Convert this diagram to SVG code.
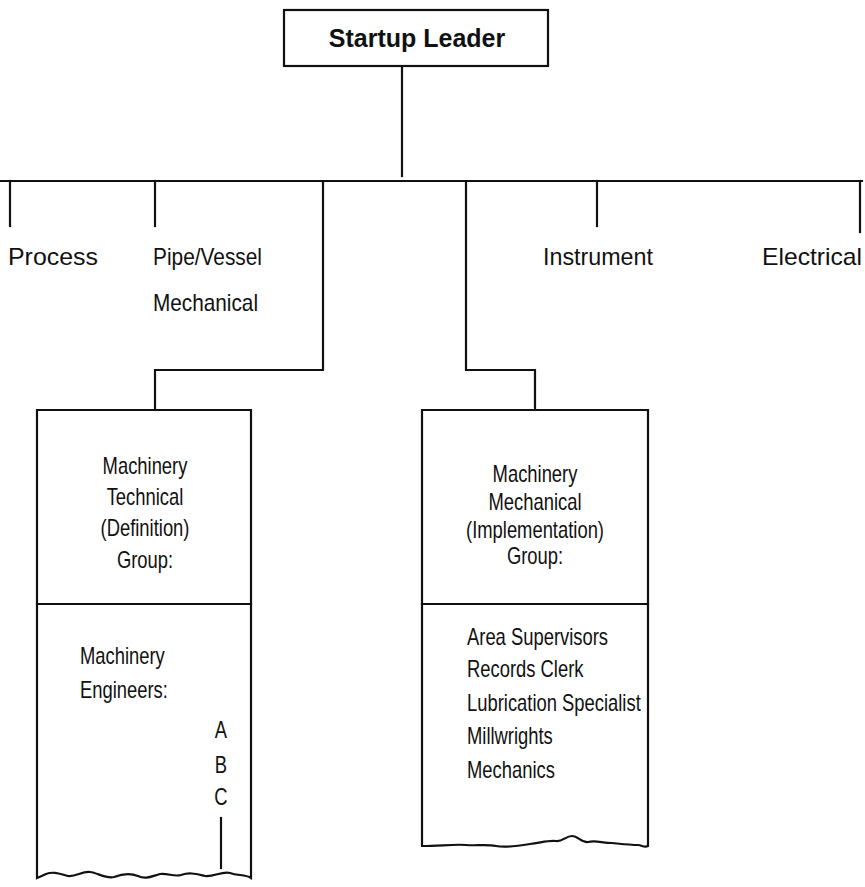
<svg xmlns="http://www.w3.org/2000/svg" width="865" height="887" viewBox="0 0 865 887">
  <style>
    .ln { fill: none; stroke: #111; stroke-width: 2.2; stroke-linecap: square; }
    .box { fill: #fff; stroke: #111; stroke-width: 2.2; }
    .t { font-family: "Liberation Sans", Arial, Helvetica, sans-serif; font-size: 24px; fill: #111; }
    .n { font-size: 23px; }
    .c { text-anchor: middle; }
    .b { font-weight: bold; font-size: 25px; }
  </style>
  <rect width="865" height="887" fill="#fff"/>

  <!-- connectors -->
  <g id="connectors" class="ln">
    <line x1="402" y1="66" x2="402" y2="176"/>
    <line x1="0" y1="181" x2="862" y2="181"/>
    <line x1="10" y1="181" x2="10" y2="226"/>
    <line x1="155" y1="181" x2="155" y2="226"/>
    <line x1="597" y1="181" x2="597" y2="226"/>
    <line x1="860" y1="181" x2="860" y2="232"/>
    <polyline points="323,181 323,370 155,370 155,410"/>
    <polyline points="466,181 466,370 535,370 535,410"/>
  </g>

  <!-- top node -->
  <g id="startup-leader">
    <rect class="box" x="284" y="10" width="264" height="56"/>
    <text class="t c b" x="417" y="47">Startup Leader</text>
  </g>

  <!-- first-level disciplines -->
  <g id="process"><text class="t" x="8" y="265" textLength="90" lengthAdjust="spacingAndGlyphs">Process</text></g>
  <g id="pipe-vessel">
    <text class="t" x="153" y="265" textLength="109" lengthAdjust="spacingAndGlyphs">Pipe/Vessel</text>
    <text class="t" x="153" y="311" textLength="105" lengthAdjust="spacingAndGlyphs">Mechanical</text>
  </g>
  <g id="instrument"><text class="t" x="543" y="265" textLength="110" lengthAdjust="spacingAndGlyphs">Instrument</text></g>
  <g id="electrical"><text class="t" x="762" y="265" textLength="100" lengthAdjust="spacingAndGlyphs">Electrical</text></g>

  <!-- technical group, open-ended list below -->
  <g id="technical-group">
    <path class="box" d="M37,410 H251 V878 C245,874 238,876 230,873 C222,871 214,877 205,876 C196,874 190,872 181,875 C174,877 168,873 160,874 C152,876 146,880 138,876 C130,873 122,874 114,877 C106,879 98,873 90,872 C82,871 76,877 68,876 C60,874 54,871 46,874 C42,876 39,877 37,878 Z"/>
    <line class="ln" x1="37" y1="604" x2="251" y2="604"/>
    <text class="t n c" transform="translate(145,474) scale(0.8,1)">Machinery</text>
    <text class="t n c" transform="translate(145,505) scale(0.8,1)">Technical</text>
    <text class="t n c" transform="translate(145,536) scale(0.8,1)">(Definition)</text>
    <text class="t n c" transform="translate(145,568) scale(0.8,1)">Group:</text>
    <text class="t n" transform="translate(80,664) scale(0.8,1)">Machinery</text>
    <text class="t n" transform="translate(80,698) scale(0.8,1)">Engineers:</text>
    <text class="t n c" transform="translate(221,738) scale(0.8,1)">A</text>
    <text class="t n c" transform="translate(221,773) scale(0.8,1)">B</text>
    <text class="t n c" transform="translate(221,805) scale(0.8,1)">C</text>
    <line class="ln" x1="221" y1="818" x2="221" y2="868"/>
  </g>

  <!-- mechanical group -->
  <g id="mechanical-group">
    <path class="box" d="M422,410 H648 V846 C644,848 642,845 638,845 C630,845 622,844 612,843 C602,843 596,840 588,842 C582,843 578,836 572,836 C566,836 562,842 556,841 C548,840 540,843 530,844 C518,846 506,848 496,846 C486,844 476,846 466,845 C454,844 440,846 422,846 Z"/>
    <line class="ln" x1="422" y1="604" x2="648" y2="604"/>
    <text class="t n c" transform="translate(535,482) scale(0.8,1)">Machinery</text>
    <text class="t n c" transform="translate(535,510) scale(0.8,1)">Mechanical</text>
    <text class="t n c" transform="translate(535,538) scale(0.8,1)">(Implementation)</text>
    <text class="t n c" transform="translate(535,564) scale(0.8,1)">Group:</text>
    <text class="t n" transform="translate(467,645) scale(0.8,1)">Area Supervisors</text>
    <text class="t n" transform="translate(467,677) scale(0.8,1)">Records Clerk</text>
    <text class="t n" transform="translate(467,711) scale(0.8,1)">Lubrication Specialist</text>
    <text class="t n" transform="translate(467,744) scale(0.8,1)">Millwrights</text>
    <text class="t n" transform="translate(467,778) scale(0.8,1)">Mechanics</text>
  </g>
</svg>
